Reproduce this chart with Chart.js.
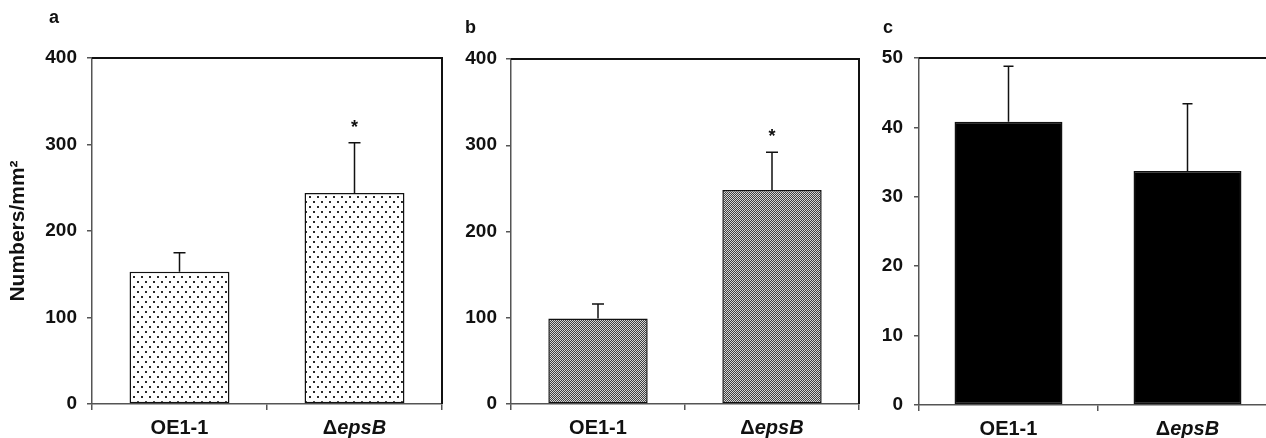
<!DOCTYPE html>
<html><head><meta charset="utf-8">
<script src="https://cdn.jsdelivr.net/npm/chart.js@4.4.0/dist/chart.umd.min.js"></script>
<style>
html,body{margin:0;padding:0;background:#fff;overflow:hidden}
#wrap{position:relative;width:1266px;height:438px;overflow:hidden;background:#fff}
canvas{position:absolute;top:0}
.lab{position:absolute;font:bold 18px 'Liberation Sans',Arial,sans-serif;color:#111;line-height:18px}
</style></head><body>
<div id="wrap">
<canvas id="ca" width="448" height="438" style="left:0px"></canvas>
<canvas id="cb" width="420" height="438" style="left:445px"></canvas>
<canvas id="cc" width="420" height="438" style="left:865px"></canvas>
<div class="lab" style="left:49px;top:8px">a</div>
<div class="lab" style="left:465px;top:18px">b</div>
<div class="lab" style="left:883px;top:18px">c</div>
</div>
<script>
const categories = ['OE1-1', 'ΔepsB'];
const meanA = [153, 244];
const seA = [22, 58];
const sigA = [false, true];
const meanB = [99, 248];
const seB = [17, 44];
const sigB = [false, true];
const meanC = [40.8, 33.7];
const seC = [8.0, 9.7];
const sigC = [false, false];
const ticksAB = [0, 100, 200, 300, 400];
const ticksC = [0, 10, 20, 30, 40, 50];

const FAM = "'Liberation Sans', Arial, sans-serif";

function dotPattern(){
  const c = document.createElement('canvas'); c.width = 8; c.height = 10;
  const g = c.getContext('2d');
  g.fillStyle = '#fff'; g.fillRect(0,0,8,10);
  g.fillStyle = '#2a2a2a';
  g.fillRect(1,1,2,2); g.fillRect(5,6,2,2);
  return g.createPattern(c, 'repeat');
}
function checkPattern(){
  const c = document.createElement('canvas'); c.width = 2; c.height = 2;
  const g = c.getContext('2d');
  g.fillStyle = '#d6d6d6'; g.fillRect(0,0,2,2);
  g.fillStyle = '#404040'; g.fillRect(0,0,1,1); g.fillRect(1,1,1,1);
  return g.createPattern(c, 'repeat');
}

function drawCatLabel(ctx, text, cx, by){
  let parts;
  if (text.startsWith('Δ')) parts = [['Δ', 'bold'], [text.slice(1), 'italic bold']];
  else parts = [[text, 'bold']];
  let total = 0;
  parts.forEach(p => { ctx.font = p[1] + ' 20px ' + FAM; total += ctx.measureText(p[0]).width; });
  let x = cx - total / 2;
  ctx.textAlign = 'left'; ctx.textBaseline = 'alphabetic'; ctx.fillStyle = '#111';
  parts.forEach(p => { ctx.font = p[1] + ' 20px ' + FAM; ctx.fillText(p[0], x, by); x += ctx.measureText(p[0]).width; });
}

function decor(se, sig, capW){
  return {
    id: 'decor',
    afterDatasetsDraw(chart){
      const ctx = chart.ctx, y = chart.scales.y, x = chart.scales.x;
      const meta = chart.getDatasetMeta(0);
      const vals = chart.data.datasets[0].data;
      ctx.save();
      ctx.strokeStyle = '#111'; ctx.lineWidth = 1.5;
      meta.data.forEach((el, i) => {
        const top = y.getPixelForValue(vals[i] + se[i]);
        ctx.beginPath();
        ctx.moveTo(el.x, el.y); ctx.lineTo(el.x, top);
        ctx.moveTo(el.x - capW / 2, top); ctx.lineTo(el.x + capW / 2, top);
        ctx.stroke();
        if (sig[i]) {
          ctx.fillStyle = '#111'; ctx.font = 'bold 18px ' + FAM;
          ctx.textAlign = 'center'; ctx.textBaseline = 'alphabetic';
          ctx.fillText('*', el.x, top - 10);
        }
      });
      const a = chart.chartArea;
      ctx.strokeStyle = '#111'; ctx.lineWidth = 2;
      ctx.beginPath();
      ctx.moveTo(a.left, a.top); ctx.lineTo(a.right, a.top); ctx.lineTo(a.right, a.bottom);
      ctx.stroke();
      categories.forEach((c, i) => drawCatLabel(ctx, c, x.getPixelForTick(i), a.bottom + 30));
      ctx.restore();
    }
  };
}

function makeChart(id, mean, se, sig, ticks, max, fill, barPct, yw, xh, padTop, padRight, yPad, capW, ytitle){
  new Chart(document.getElementById(id), {
    type: 'bar',
    data: { labels: categories, datasets: [{ data: mean, backgroundColor: fill, borderColor: '#111', borderWidth: 1.5, borderSkipped: false, barPercentage: barPct, categoryPercentage: 1 }] },
    options: {
      responsive: false, animation: false,
      layout: { padding: { top: padTop, right: padRight, left: 0, bottom: 0 } },
      plugins: { legend: { display: false }, tooltip: { enabled: false } },
      scales: {
        x: {
          grid: { drawOnChartArea: false, drawTicks: true, tickLength: 6, color: '#555', lineWidth: 1.5, offset: true },
          border: { color: '#555', width: 1.5 },
          ticks: { display: false },
          afterFit(s){ s.height = xh; }
        },
        y: {
          min: 0, max: max,
          grid: { drawOnChartArea: false, tickLength: 5, color: '#555', lineWidth: 1.5 },
          border: { color: '#555', width: 1.5 },
          ticks: { color: '#111', font: { family: FAM, size: 19, weight: 'bold' }, padding: yPad },
          afterBuildTicks(s){ s.ticks = ticks.map(v => ({ value: v })); },
          afterFit(s){ s.width = yw; },
          title: ytitle ? { display: true, text: ytitle, color: '#111', font: { family: FAM, size: 21, weight: 'bold' }, padding: { top: 6, bottom: 0 } } : { display: false }
        }
      }
    },
    plugins: [decor(se, sig, capW)]
  });
}

makeChart('ca', meanA, seA, sigA, ticksAB, 400, dotPattern(), 0.571, 92, 34, 58, 6, 10, 12, 'Numbers/mm²');
makeChart('cb', meanB, seB, sigB, ticksAB, 400, checkPattern(), 0.571, 66, 34, 59, 6, 9, 12, null);
makeChart('cc', meanC, seC, sigC, ticksC, 50, '#000', 0.603, 54, 33, 58, 8, 11, 10, null);
</script>
</body></html>
